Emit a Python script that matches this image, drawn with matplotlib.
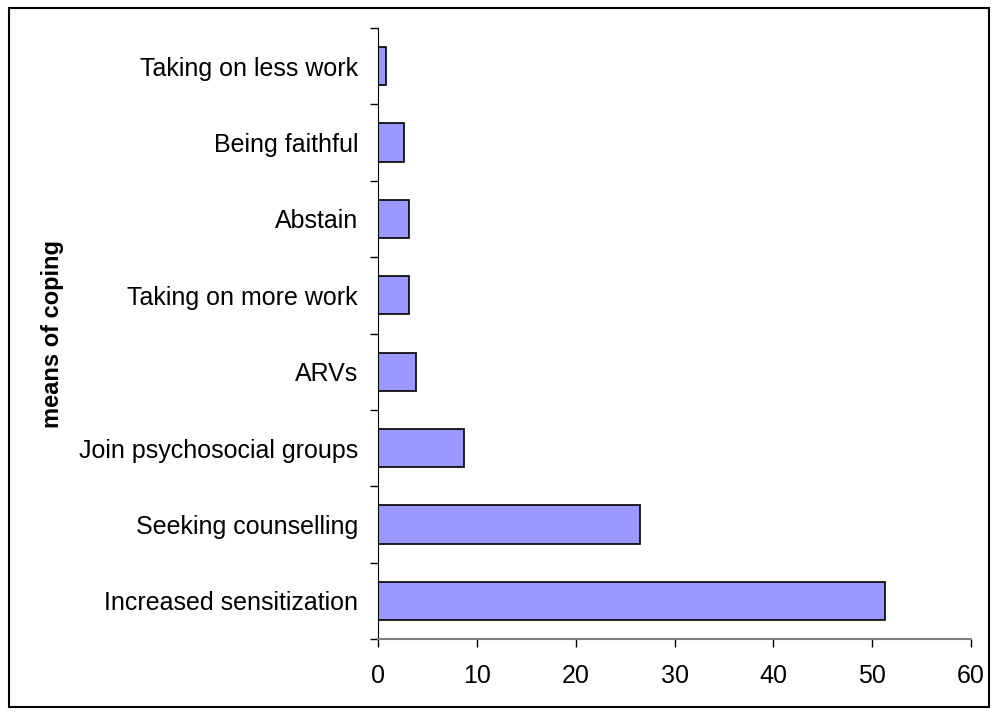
import numpy as np
import matplotlib.pyplot as plt
from matplotlib.patches import Rectangle

plt.rcParams['font.family'] = ['Liberation Sans', 'DejaVu Sans']

# categories bottom to top
categories = ["Increased sensitization", "Seeking counselling", "Join psychosocial groups",
              "ARVs", "Taking on more work", "Abstain", "Being faithful", "Taking on less work"]
values = [51.3, 26.5, 8.7, 3.8, 3.1, 3.1, 2.6, 0.8]
xticks = [0, 10, 20, 30, 40, 50, 60]

fig = plt.figure(figsize=(9.98, 7.15), dpi=100)
ax = fig.add_axes([0.379, 0.1063, 0.594, 0.8545])

y = np.arange(len(categories))
ax.barh(y, values, height=0.5, color='#9999FF', edgecolor='black', linewidth=1.2)

ax.set_xlim(0, 60)
ax.set_ylim(-0.5, len(categories) - 0.5)
ax.set_xticks(xticks)
ax.set_xticklabels([str(t) for t in xticks], fontsize=18)
ax.set_yticks(y)
ax.set_yticklabels(categories, fontsize=18)
ax.set_yticks(np.arange(-0.5, len(categories)), minor=True)

ax.tick_params(axis='y', which='major', length=0, pad=14.5)
ax.tick_params(axis='y', which='minor', length=6, width=1, color='black', direction='out')
ax.tick_params(axis='x', which='major', length=6, width=1, color='black', direction='out', pad=12)

for s in ['top', 'right']:
    ax.spines[s].set_visible(False)
ax.spines['left'].set_color('black')
ax.spines['bottom'].set_color('#808080')
ax.spines['bottom'].set_linewidth(1.5)

fig.text(0.053, 0.5335, "means of coping", rotation=90, fontsize=17, fontweight='bold',
         ha='center', va='center')

fig.patches.append(Rectangle((0.009, 0.011), 0.982, 0.978, transform=fig.transFigure,
                             fill=False, edgecolor='black', linewidth=1.5))

fig.savefig('out.png', dpi=100)
